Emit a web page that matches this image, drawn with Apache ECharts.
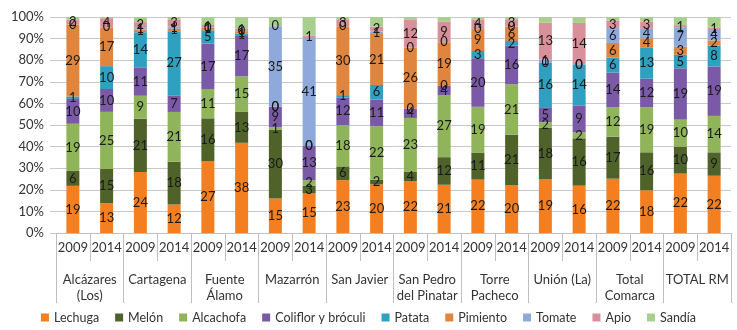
<!DOCTYPE html>
<html>
<head>
<meta charset="utf-8">
<script src="https://cdn.jsdelivr.net/npm/echarts@6/dist/echarts.min.js"></script>
<style>html,body{margin:0;padding:0;background:#fff}#c{width:737px;height:330px}</style>
</head>
<body>
<div id="c"></div>
<script>
const years = ['2009','2014','2009','2014','2009','2014','2009','2014','2009','2014','2009','2014','2009','2014','2009','2014','2009','2014','2009','2014'];
const groups = ['Alcázares\n(Los)','Cartagena','Fuente\nÁlamo','Mazarrón','San Javier','San Pedro\ndel Pinatar','Torre\nPacheco','Unión (La)','Total\nComarca','TOTAL RM'];
const seriesNames = ['Lechuga','Melón','Alcachofa','Coliflor y bróculi','Patata','Pimiento','Tomate','Apio','Sandía'];
const lechuga   = [19,13,24,12,27,38,15,15,23,20,22,21,22,20,19,16,22,18,22,22];
const melon     = [6,15,21,18,16,13,30,3,6,2,4,12,11,21,18,16,17,16,10,9];
const alcachofa = [19,25,9,21,11,15,1,2,18,22,23,27,19,21,2,2,12,19,10,14];
const coliflor  = [10,10,11,7,17,17,9,13,12,11,4,4,20,16,5,9,14,12,19,19];
const patata    = [1,10,14,27,5,1,0,0,1,6,0,0,3,2,16,14,6,13,5,8];
const pimiento  = [29,17,1,1,1,1,0,0,30,21,26,19,9,6,0,0,6,4,3,2];
const tomate    = [0,0,1,1,0,0,35,41,0,1,0,0,0,0,1,0,6,4,7,4];
const apio      = [2,4,2,3,1,1,0,1,3,2,12,9,4,3,13,14,3,3,1,1];
const sandia    = [1,0.5,2,1,3,5,4,7,1,4,1,2,1,1,2,2,1.5,2,3,4];
const yTicks = [0,10,20,30,40,50,60,70,80,90,100];

const allData = [lechuga, melon, alcachofa, coliflor, patata, pimiento, tomate, apio, sandia];
const colors = ['#F47F20','#4E6229','#8FB45A','#7A5AA6','#2FA0BF','#E0853E','#8EA9DA','#D8919A','#A8CF8D'];
const totals = years.map((_, i) => allData.reduce((s, arr) => s + arr[i], 0));

const FONT = 'Lato, "Noto Sans", sans-serif';
const series = allData.map((arr, si) => ({
  name: seriesNames[si],
  type: 'bar',
  stack: 'all',
  barWidth: 13,
  itemStyle: { color: colors[si] },
  label: {
    show: si < 8,
    position: 'inside',
    color: '#1a1a1a',
    fontSize: 13,
    fontFamily: FONT,
    formatter: p => String(arr[p.dataIndex])
  },
  data: arr.map((v, i) => v / totals[i] * 100)
}));

const chart = echarts.init(document.getElementById('c'), null, { renderer: 'canvas' });
chart.setOption({
  animation: false,
  textStyle: { fontFamily: FONT },
  grid: { left: 56, right: 6, top: 17, bottom: 97 },
  legend: {
    bottom: 1,
    left: 'center',
    icon: 'rect',
    itemWidth: 8,
    itemHeight: 8,
    itemGap: 16,
    textStyle: { fontSize: 12.5, color: '#333', fontFamily: FONT },
    data: seriesNames
  },
  xAxis: [
    {
      type: 'category',
      data: years,
      axisLine: { lineStyle: { color: '#bfbfbf' } },
      axisTick: { show: true, interval: 0, length: 28, lineStyle: { color: '#bfbfbf' } },
      axisLabel: { interval: 0, margin: 8, fontSize: 13, color: '#333', fontFamily: FONT }
    },
    {
      type: 'category',
      data: groups,
      position: 'bottom',
      axisLine: { show: false },
      axisTick: { show: true, interval: 0, length: 70, lineStyle: { color: '#bfbfbf' } },
      axisLabel: { interval: 0, margin: 39, fontSize: 13, lineHeight: 16, color: '#333', fontFamily: FONT }
    }
  ],
  yAxis: {
    type: 'value',
    min: yTicks[0],
    max: yTicks[yTicks.length - 1],
    interval: 10,
    axisLine: { show: false },
    axisTick: { show: true, length: 6, lineStyle: { color: '#c8c8c8' } },
    splitLine: { lineStyle: { color: '#c8c8c8' } },
    axisLabel: { formatter: '{value}%', fontSize: 13, color: '#333', margin: 12, fontFamily: FONT }
  },
  series: series
});
</script>
</body>
</html>
